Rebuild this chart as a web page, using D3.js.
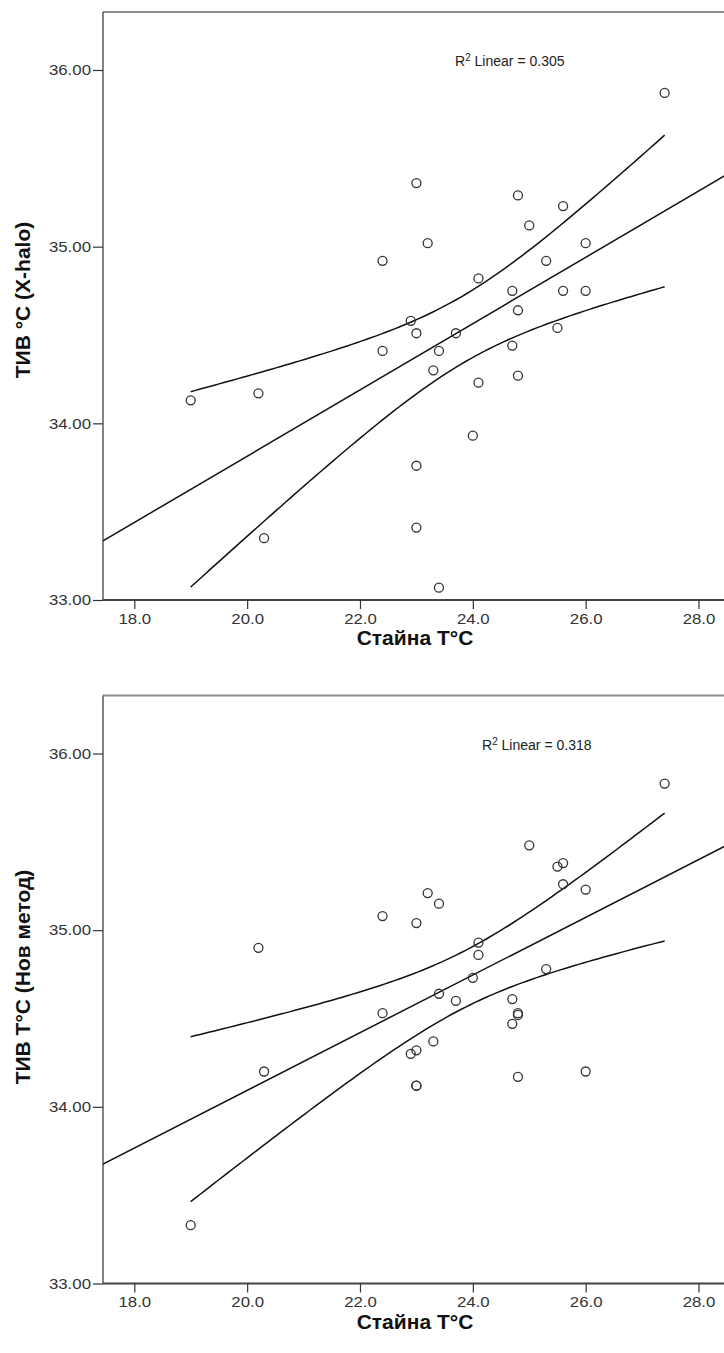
<!DOCTYPE html>
<html>
<head>
<meta charset="utf-8">
<script src="https://cdn.jsdelivr.net/npm/d3@7/dist/d3.min.js"></script>
<style>
  html, body { margin: 0; padding: 0; background: #fff; }
  svg { display: block; }
  text { font-family: "Liberation Sans", Arial, sans-serif; }
</style>
</head>
<body>
<svg id="chart" width="724" height="1353"></svg>
<script>
// Room temperature (shared x variable) for both panels
const roomTemp = [23.0, 24.8, 25.6, 25.0, 23.2, 26.0, 25.3, 22.4, 24.1, 24.7,
                  25.6, 26.0, 22.9, 24.8, 23.0, 23.7, 23.4, 22.4, 25.5, 24.7,
                  23.3, 24.8, 24.1, 24.0, 19.0, 20.2, 27.4, 23.0, 23.0, 20.3, 23.4];
const tivXhalo = [35.36, 35.29, 35.23, 35.12, 35.02, 35.02, 34.92, 34.92, 34.82, 34.75,
                  34.75, 34.75, 34.58, 34.64, 34.51, 34.51, 34.41, 34.41, 34.54, 34.44,
                  34.30, 34.27, 34.23, 33.93, 34.13, 34.17, 35.87, 33.76, 33.41, 33.35, 33.07];

const roomTemp2 = [27.4, 25.0, 25.5, 25.6, 25.6, 26.0, 23.2, 23.4, 22.4, 23.0,
                   20.2, 24.1, 24.1, 24.0, 23.4, 23.7, 25.3, 24.7, 24.8, 24.8,
                   24.7, 22.4, 23.3, 22.9, 23.0, 20.3, 24.8, 26.0, 23.0, 23.0, 19.0];
const tivNewMethod = [35.83, 35.48, 35.36, 35.38, 35.26, 35.23, 35.21, 35.15, 35.08, 35.04,
                      34.90, 34.93, 34.86, 34.73, 34.64, 34.60, 34.78, 34.61, 34.53, 34.52,
                      34.47, 34.53, 34.37, 34.30, 34.32, 34.20, 34.17, 34.20, 34.12, 34.12, 33.33];

const xTicks = [18, 20, 22, 24, 26, 28];
const yTicks = [33, 34, 35, 36];
const xTitle = "Стайна Т°С";
const panels = [
  { x: roomTemp,  y: tivXhalo,     yTitle: "ТИВ °C (X-halo)",      r2: "0.305", r2x: 455, yTitleMid: 300 },
  { x: roomTemp2, y: tivNewMethod, yTitle: "ТИВ Т°С (Нов метод)",  r2: "0.318", r2x: 482, yTitleMid: 977 }
];

const svg = d3.select("#chart");

// Ordinary least squares with 95% confidence band for the mean
function linearFit(xs, ys) {
  const n = xs.length;
  const mx = d3.mean(xs), my = d3.mean(ys);
  let sxx = 0, sxy = 0;
  for (let i = 0; i < n; i++) {
    sxx += (xs[i] - mx) ** 2;
    sxy += (xs[i] - mx) * (ys[i] - my);
  }
  const b = sxy / sxx, a = my - b * mx;
  let sse = 0;
  for (let i = 0; i < n; i++) sse += (ys[i] - (a + b * xs[i])) ** 2;
  const s = Math.sqrt(sse / (n - 2));
  const t = 2.045; // t(0.975, df = 29)
  return {
    predict: x => a + b * x,
    half: x => t * s * Math.sqrt(1 / n + (x - mx) ** 2 / sxx)
  };
}

// tick labels are set slightly wide
function styleTickText(sel) {
  sel.attr("font-size", 15).attr("fill", "#333")
    .attr("font-family", "'Liberation Sans', Arial, sans-serif")
    .each(function () {
      const w = this.getComputedTextLength();
      d3.select(this).attr("textLength", (w * 1.12).toFixed(1)).attr("lengthAdjust", "spacingAndGlyphs");
    });
}

panels.forEach((p, idx) => {
  const off = idx * 683.5;
  const top = 12 + off, bottom = 600 + off;
  const x = d3.scaleLinear().domain([18, 28]).range([134.3, 698.5]);
  const y = d3.scaleLinear().domain([33, 36]).range([bottom, 70 + off]);
  const xMin = x.invert(103), xMax = x.invert(741);

  const g = svg.append("g");
  const clipId = "clip" + idx;
  svg.append("clipPath").attr("id", clipId)
    .append("rect").attr("x", 103).attr("y", top).attr("width", 638).attr("height", bottom - top);

  // frame: top edge
  g.append("line").attr("x1", 103).attr("x2", 741).attr("y1", top).attr("y2", top)
    .attr("stroke", "#8c8c8c").attr("stroke-width", 2);
  // y axis
  const yAxis = d3.axisLeft(y).tickValues(yTicks).tickFormat(d3.format(".2f"))
    .tickSize(10).tickPadding(2);
  const ya = g.append("g").attr("transform", "translate(103,0)").call(yAxis);
  ya.select(".domain").attr("d", `M0,${top}V${bottom}`).attr("stroke", "#333").attr("stroke-width", 1.2);
  ya.selectAll(".tick line").attr("stroke", "#333").attr("stroke-width", 1.2);
  ya.selectAll(".tick text").call(styleTickText);

  // x axis
  const xAxis = d3.axisBottom(x).tickValues(xTicks).tickFormat(d3.format(".1f"))
    .tickSize(9).tickPadding(4);
  const xa = g.append("g").attr("transform", `translate(0,${bottom})`).call(xAxis);
  xa.select(".domain").attr("d", `M${x(xMin)},0H${x(xMax)}`).attr("stroke", "#444").attr("stroke-width", 2.2);
  xa.selectAll(".tick line").attr("stroke", "#333").attr("stroke-width", 1.2);
  xa.selectAll(".tick text").call(styleTickText);

  // axis titles
  g.append("text").attr("x", 415).attr("y", bottom + 45).attr("text-anchor", "middle")
    .attr("font-size", 21).attr("font-weight", "bold").attr("fill", "#111").text(xTitle);
  g.append("text")
    .attr("transform", `translate(30,${p.yTitleMid}) rotate(-90)`)
    .attr("text-anchor", "middle").attr("font-size", 21).attr("font-weight", "bold")
    .attr("fill", "#111").text(p.yTitle);

  // fit line and 95% confidence band
  const fit = linearFit(p.x, p.y);
  const line = d3.line().x(d => x(d[0])).y(d => y(d[1]));
  const plotArea = g.append("g").attr("clip-path", `url(#${clipId})`);
  plotArea.append("path")
    .attr("d", line([[xMin, fit.predict(xMin)], [xMax, fit.predict(xMax)]]))
    .attr("fill", "none").attr("stroke", "#111").attr("stroke-width", 1.5);
  const lo = d3.min(p.x), hi = d3.max(p.x);
  const xs = d3.range(0, 101).map(i => lo + (hi - lo) * i / 100);
  [1, -1].forEach(sign => {
    plotArea.append("path")
      .attr("d", line(xs.map(v => [v, fit.predict(v) + sign * fit.half(v)])))
      .attr("fill", "none").attr("stroke", "#111").attr("stroke-width", 1.5);
  });

  // points
  plotArea.selectAll("circle").data(p.x.map((v, i) => [v, p.y[i]])).join("circle")
    .attr("cx", d => x(d[0])).attr("cy", d => y(d[1])).attr("r", 4.5)
    .attr("fill", "none").attr("stroke", "#333").attr("stroke-width", 1.3);

  // R² annotation
  const r2 = g.append("text").attr("x", p.r2x).attr("y", 66 + off)
    .attr("font-size", 14).attr("fill", "#222");
  r2.append("tspan").text("R");
  r2.append("tspan").attr("font-size", 10).attr("dy", -5).text("2");
  r2.append("tspan").attr("dy", 5).text(" Linear = " + p.r2);
});
</script>
</body>
</html>
